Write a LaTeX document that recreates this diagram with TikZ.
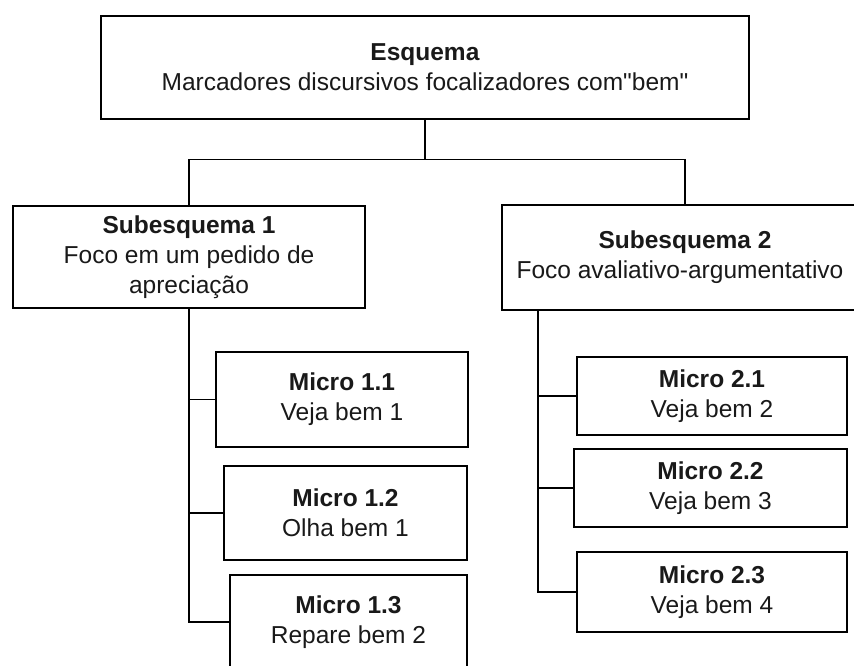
\documentclass[tikz,border=0pt]{standalone}
\usepackage{fontspec}
\setmainfont{Liberation Sans}
\begin{document}
\begin{tikzpicture}[
  x=1pt, y=-1pt,
  box/.style={draw, line width=1.3pt, align=center, inner sep=0pt,
    font=\fontsize{24.5}{30}\selectfont, text=black!90},
  e/.style={line width=1.3pt}
]
\useasboundingbox (0,0) rectangle (854,666);

% top level
\node[box, minimum width=648pt, minimum height=103pt] (esq) at (425,67.5)
  {\textbf{Esquema}\\Marcadores discursivos focalizadores com\textquotedbl bem\textquotedbl};

% subschemas
\node[box, minimum width=352pt, minimum height=102pt] (sub1) at (189,257)
  {\textbf{Subesquema 1}\\Foco em um pedido de\\apreciação};
\node[box, minimum width=366pt, minimum height=105pt] (sub2) at (685,257.5)
  {\textbf{Subesquema 2}\\\hspace*{-10pt}Foco avaliativo-argumentativo};

% micro level, left
\node[box, minimum width=252pt, minimum height=95pt] (m11) at (342,399.5)
  {\textbf{Micro 1.1}\\Veja bem 1};
\node[box, minimum width=243pt, minimum height=94pt] (m12) at (345.5,513)
  {\textbf{Micro 1.2}\\Olha bem 1};
\node[box, minimum width=237pt, minimum height=94pt] (m13) at (348.5,622)
  {\textbf{Micro 1.3}\\Repare bem 2};

% micro level, right
\node[box, minimum width=270pt, minimum height=78pt] (m21) at (712,396)
  {\textbf{Micro 2.1}\\Veja bem 2};
\node[box, minimum width=273pt, minimum height=78pt] (m22) at (710.5,488)
  {\textbf{Micro 2.2}\\Veja bem 3};
\node[box, minimum width=270pt, minimum height=80pt] (m23) at (712,592)
  {\textbf{Micro 2.3}\\Veja bem 4};

% tree connectors
\draw[e] (esq.south) -- ++(0,40) coordinate (bar);
\draw[e] (bar) -| (sub1.north);
\draw[e] (bar) -| (sub2.north);

\coordinate (s2) at (538,310);
\draw[e] (sub1.south) |- (m13.west);
\draw[e] (s2) |- (m23.west);
\foreach \m in {m11,m12}
  \draw[e] (\m.west) -- (\m.west -| sub1.south);
\foreach \m in {m21,m22}
  \draw[e] (\m.west) -- (\m.west -| s2);

\end{tikzpicture}
\end{document}
